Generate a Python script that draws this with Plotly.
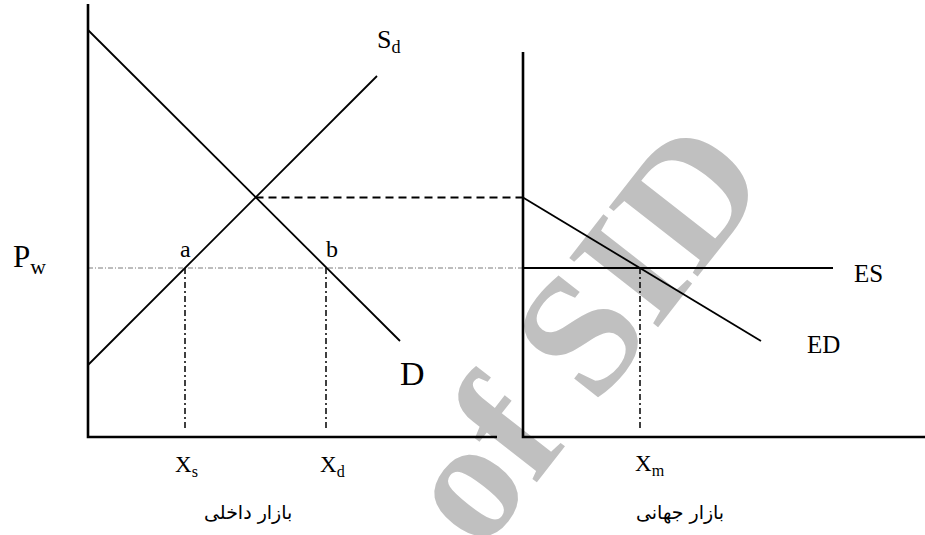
import plotly.graph_objects as go

# ---------------- data (quantity / price units) ----------------
# domestic market (left panel)
demand_q = [0.0, 31.2]
demand_p = [40.7, 9.6]
supply_q = [0.0, 28.9]
supply_p = [7.2, 36.1]
equilibrium = [16.75, 23.95]          # autarky q, p
world_price = 16.9
xs_q = 9.7                              # domestic supply at world price
xd_q = 23.8                             # domestic demand at world price
left_axis_q = [0.0, 0.0, 40.9]
left_axis_p = [43.3, 0.0, 0.0]

# world market (right panel, its own quantity origin)
right_origin = 43.5                     # where the right panel's q=0 sits
ed_q = [0.0, 23.8]
ed_p = [23.95, 9.6]
es_q = [0.0, 31.0]
es_p = [16.9, 16.9]
xm_q = 11.7
right_axis_q = [0.0, 0.0, 40.2]
right_axis_p = [38.5, 0.0, 0.0]
drop_bottom = 0.9                       # lower end of dash-dot drop lines

tick_labels = ["X<sub>s</sub>", "X<sub>d</sub>", "X<sub>m</sub>"]
panel_titles = ["بازار داخلی", "بازار جهانی"]

# ---------------- figure ----------------
W, H = 925, 535
fig = go.Figure()

BLACK = "#000000"
SERIF = "Liberation Serif"


def line(x, y, width=1.8, color=BLACK, dash="solid"):
    fig.add_trace(go.Scatter(x=x, y=y, mode="lines", hoverinfo="skip",
                             line=dict(color=color, width=width, dash=dash),
                             showlegend=False))


R = lambda qs: [right_origin + q for q in qs]

# world price line across the domestic panel (thin grey dash-dot)
line([0, right_origin], [world_price, world_price], width=1.0,
     color="#7a7a7a", dash="5px,2px,1px,2px")
# dashed autarky price to the world market
line([equilibrium[0], right_origin], [equilibrium[1], equilibrium[1]],
     width=2.0, dash="8px,5px")
# drop lines
for q in (xs_q, xd_q):
    line([q, q], [world_price, drop_bottom], width=1.5, dash="6px,3px,2px,3px")
line(R([xm_q, xm_q]), [world_price, drop_bottom], width=1.5,
     dash="6px,3px,2px,3px")

# curves
line(demand_q, demand_p)
line(supply_q, supply_p)
line(R(ed_q), ed_p)
line(R(es_q), es_p, width=2.0)

# axes
line(left_axis_q, left_axis_p, width=2.6)
line(R(right_axis_q), right_axis_p, width=2.6)

# coordinate frame: 10 px per unit, origin of left panel at (88, 437)
x_range = [-88 / 10, (W - 88) / 10]
y_range = [-(H - 437) / 10, 437 / 10]
fig.update_xaxes(range=x_range, visible=False)
fig.update_yaxes(range=y_range, visible=False)


def px_to_paper(x, y):
    return x / W, 1 - y / H


def label(text, x, y, size, family=SERIF, xanchor="center"):
    px, py = px_to_paper(x, y)
    fig.add_annotation(text=text, x=px, y=py, xref="paper", yref="paper",
                       showarrow=False, xanchor=xanchor, yanchor="middle",
                       font=dict(family=family, size=size, color=BLACK))


label("S<sub>d</sub>", 389, 41, 26)
label("D", 412, 373, 34)
label("P<sub>w</sub>", 11, 259, 31, xanchor="left")
label("a", 185, 249, 24)
label("b", 332, 249, 24)
label("ES", 868, 273, 25)
label("ED", 823, 344, 25)
label(tick_labels[0], 186, 466, 23)
label(tick_labels[1], 332, 466, 23)
label(tick_labels[2], 650, 465, 23)
label(panel_titles[0], 248, 512, 19, family="DejaVu Sans")
label(panel_titles[1], 680, 512, 19, family="DejaVu Sans")

# watermark beneath the drawing
cx, cy = px_to_paper(566, 320)
fig.add_shape(type="rect", xref="paper", yref="paper",
              x0=cx - 0.05, x1=cx + 0.05, y0=cy - 0.05, y1=cy + 0.05,
              line=dict(width=0), fillcolor="rgba(0,0,0,0)", layer="below",
              label=dict(text="of SID", textangle=-52,
                         textposition="middle center",
                         font=dict(family=SERIF, size=172, color="#c0c0c0",
                                   weight="bold")))

fig.update_layout(width=W, height=H, margin=dict(l=0, r=0, t=0, b=0),
                  plot_bgcolor="white", paper_bgcolor="white",
                  showlegend=False)

fig.write_html("out.html",
               config={"displayModeBar": False},
               post_script="document.body.style.margin='0';"
                           "document.body.style.overflow='hidden';")
